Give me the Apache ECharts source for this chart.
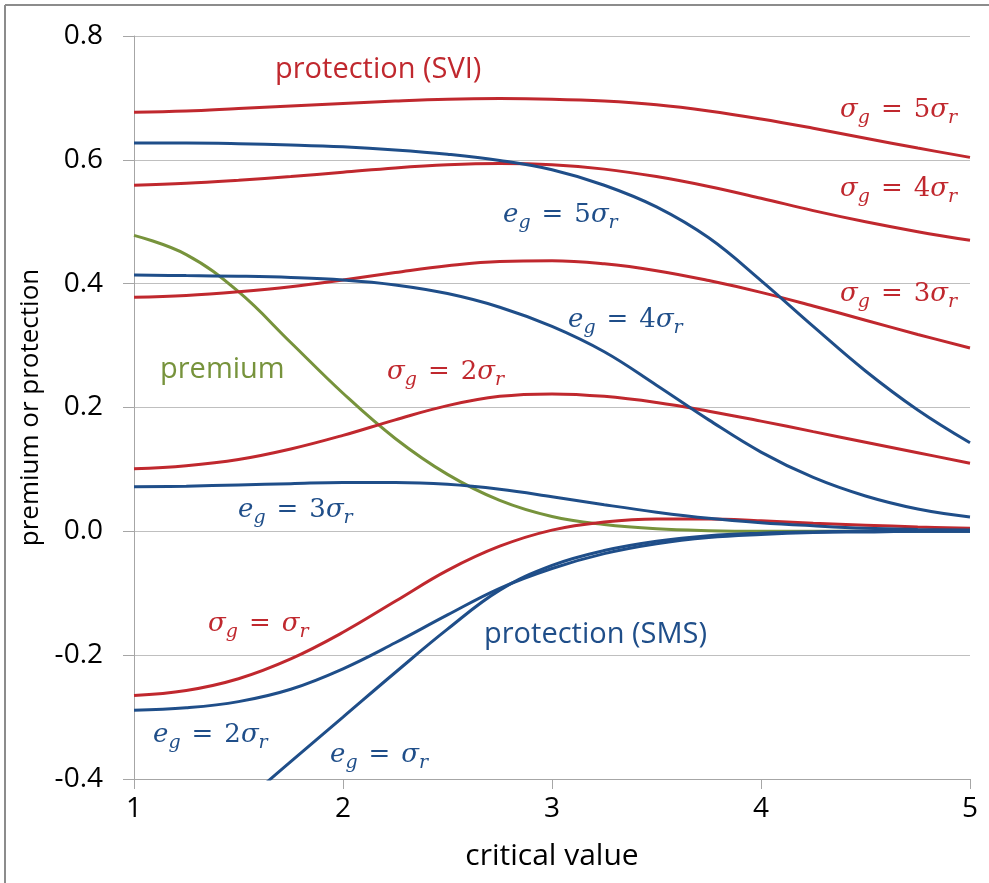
<!DOCTYPE html>
<html>
<head>
<meta charset="utf-8">
<script src="https://cdn.jsdelivr.net/npm/echarts@6/dist/echarts.min.js"></script>
<style>
  html, body { margin: 0; padding: 0; background: #fff; }
  #main { width: 989px; height: 883px; }
</style>
</head>
<body>
<div id="main"></div>
<script>
// critical value grid (x)
var criticalValues = [1, 1.25, 1.5, 1.75, 2, 2.25, 2.5, 2.75, 3, 3.25, 3.5, 3.75, 4, 4.25, 4.5, 4.75, 5];

// premium
var premium = [0.478, 0.447, 0.387, 0.305, 0.223, 0.15, 0.092, 0.05, 0.024, 0.011, 0.004, 0.001, 0, 0, 0, 0, 0];

// protection (SVI), sigma_g = k sigma_r
var sviSigma1 = [-0.265, -0.257, -0.238, -0.206, -0.163, -0.113, -0.063, -0.024, 0.002, 0.015, 0.02, 0.02, 0.017, 0.013, 0.01, 0.007, 0.005];
var sviSigma2 = [0.101, 0.106, 0.116, 0.133, 0.155, 0.18, 0.203, 0.218, 0.222, 0.218, 0.208, 0.194, 0.178, 0.161, 0.144, 0.127, 0.11];
var sviSigma3 = [0.378, 0.381, 0.387, 0.395, 0.406, 0.418, 0.429, 0.436, 0.437, 0.432, 0.421, 0.405, 0.386, 0.364, 0.341, 0.318, 0.296];
var sviSigma4 = [0.559, 0.562, 0.567, 0.573, 0.58, 0.587, 0.592, 0.594, 0.592, 0.585, 0.573, 0.557, 0.538, 0.518, 0.5, 0.484, 0.47];
var sviSigma5 = [0.677, 0.679, 0.683, 0.687, 0.691, 0.695, 0.698, 0.699, 0.698, 0.695, 0.689, 0.679, 0.666, 0.651, 0.635, 0.619, 0.604];

// protection (SMS), e_g = k sigma_r
var smsE1 = [-0.6, -0.52, -0.445, -0.372, -0.3, -0.228, -0.158, -0.095, -0.055, -0.031, -0.016, -0.007, -0.003, -0.001, 0, 0, 0];
var smsE2 = [-0.289, -0.285, -0.275, -0.255, -0.222, -0.18, -0.135, -0.092, -0.06, -0.036, -0.02, -0.01, -0.005, -0.002, -0.001, 0, 0];
var smsE3 = [0.072, 0.073, 0.075, 0.077, 0.079, 0.079, 0.076, 0.068, 0.056, 0.043, 0.031, 0.021, 0.014, 0.009, 0.005, 0.003, 0.002];
var smsE4 = [0.414, 0.413, 0.412, 0.41, 0.406, 0.398, 0.384, 0.362, 0.331, 0.29, 0.236, 0.18, 0.128, 0.087, 0.057, 0.036, 0.023];
var smsE5 = [0.627, 0.627, 0.626, 0.624, 0.621, 0.616, 0.609, 0.599, 0.584, 0.559, 0.524, 0.474, 0.405, 0.331, 0.259, 0.196, 0.143];

var RED = '#C0282E';
var BLUE = '#1F4E89';
var GREEN = '#77933C';
var SANS = 'Open Sans';
var MATH = 'DejaVu Serif';

var chart = echarts.init(document.getElementById('main'));

function pairs(ys) {
    return criticalValues.map(function (x, i) { return [x, ys[i]]; });
}

function curve(name, ys, color) {
    return {
        name: name,
        type: 'line',
        smooth: 0.4,
        showSymbol: false,
        clip: true,
        lineStyle: { color: color, width: 3 },
        data: pairs(ys)
    };
}

// math label like  σg = 5σr  (italic, subscripts)
function mathLabel(x, y, color, base, sub, num) {
    var text = '{m|' + base + '}{s|' + sub + '}{q|=}' + (num ? '{n|' + num + '}' : '') + '{m|σ}{s|r}';
    return {
        type: 'text',
        x: x,
        y: y,
        z: 100,
        style: {
            text: text,
            fill: color,
            align: 'left',
            verticalAlign: 'middle',
            rich: {
                m: { fontFamily: MATH, fontStyle: 'italic', fontSize: 26, lineHeight: 34, fill: color },
                n: { fontFamily: MATH, fontSize: 26, lineHeight: 34, fill: color },
                s: { fontFamily: MATH, fontStyle: 'italic', fontSize: 19, lineHeight: 34, padding: [16, 0, 0, 0], fill: color },
                q: { fontFamily: MATH, fontSize: 26, lineHeight: 34, padding: [0, 11, 0, 11], fill: color }
            }
        }
    };
}

function plainLabel(x, y, color, text) {
    return {
        type: 'text',
        x: x,
        y: y,
        z: 100,
        style: {
            text: text,
            fill: color,
            font: '29px "' + SANS + '"',
            align: 'left',
            verticalAlign: 'middle'
        }
    };
}

var option = {
    animation: false,
    backgroundColor: '#fff',
    grid: { left: 134, right: 19, top: 36, bottom: 104 },
    xAxis: {
        type: 'value',
        min: 1,
        max: 5,
        interval: 1,
        name: 'critical value',
        nameLocation: 'middle',
        nameGap: 62,
        nameTextStyle: { fontFamily: SANS, fontSize: 30, color: '#000' },
        axisLine: { show: true, onZero: false, lineStyle: { color: '#A6A6A6', width: 1 } },
        axisTick: { show: true, length: 10, lineStyle: { color: '#A6A6A6' } },
        axisLabel: { fontFamily: SANS, fontSize: 28, color: '#000', margin: 16 },
        splitLine: { show: false }
    },
    yAxis: {
        type: 'value',
        min: -0.4,
        max: 0.8,
        interval: 0.2,
        name: 'premium or protection',
        nameLocation: 'middle',
        nameGap: 86,
        nameTextStyle: { fontFamily: SANS, fontSize: 26, color: '#000' },
        axisLine: { show: true, lineStyle: { color: '#A6A6A6', width: 1 } },
        axisTick: { show: true, length: 11, lineStyle: { color: '#A6A6A6' } },
        axisLabel: {
            fontFamily: SANS, fontSize: 28, color: '#000', margin: 31,
            formatter: function (v) { return v.toFixed(1); }
        },
        splitLine: { show: true, lineStyle: { color: '#BFBFBF', width: 1 } }
    },
    graphic: [
        // outer frame (left and top edges)
        { type: 'line', shape: { x1: 5, y1: 5, x2: 5, y2: 883 }, style: { stroke: '#8C8C8C', lineWidth: 2 } },
        { type: 'line', shape: { x1: 5, y1: 5, x2: 989, y2: 5 }, style: { stroke: '#8C8C8C', lineWidth: 2 } },

        plainLabel(275, 70, RED, 'protection (SVI)'),
        plainLabel(160, 370, GREEN, 'premium'),
        plainLabel(484, 635, BLUE, 'protection (SMS)'),

        mathLabel(840, 110, RED, 'σ', 'g', '5'),
        mathLabel(840, 189, RED, 'σ', 'g', '4'),
        mathLabel(840, 294, RED, 'σ', 'g', '3'),
        mathLabel(387, 372, RED, 'σ', 'g', '2'),
        mathLabel(208, 624, RED, 'σ', 'g', ''),

        mathLabel(503, 215, BLUE, 'e', 'g', '5'),
        mathLabel(568, 320, BLUE, 'e', 'g', '4'),
        mathLabel(238, 510, BLUE, 'e', 'g', '3'),
        mathLabel(153, 735, BLUE, 'e', 'g', '2'),
        mathLabel(330, 755, BLUE, 'e', 'g', '')
    ],
    series: [
        curve('premium', premium, GREEN),
        curve('SVI σg=σr', sviSigma1, RED),
        curve('SVI σg=2σr', sviSigma2, RED),
        curve('SVI σg=3σr', sviSigma3, RED),
        curve('SVI σg=4σr', sviSigma4, RED),
        curve('SVI σg=5σr', sviSigma5, RED),
        curve('SMS eg=σr', smsE1, BLUE),
        curve('SMS eg=2σr', smsE2, BLUE),
        curve('SMS eg=3σr', smsE3, BLUE),
        curve('SMS eg=4σr', smsE4, BLUE),
        curve('SMS eg=5σr', smsE5, BLUE)
    ]
};

chart.setOption(option);
</script>
</body>
</html>
